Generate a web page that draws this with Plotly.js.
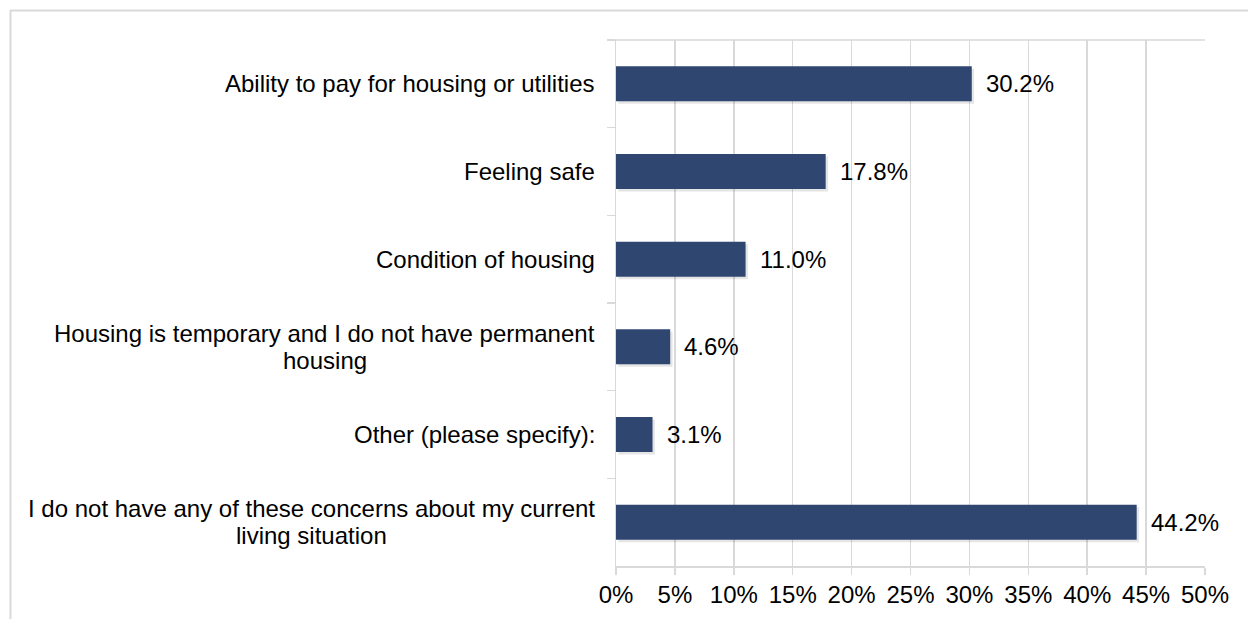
<!DOCTYPE html>
<html>
<head>
<meta charset="utf-8">
<script src="https://cdn.plot.ly/plotly-3.0.1.min.js"></script>
<style>html,body{margin:0;padding:0;background:#fff;}#chart{width:1248px;height:619px;}</style>
</head>
<body>
<div id="chart"></div>
<script>
var categories = [
  "Ability to pay for housing or utilities",
  "Feeling safe",
  "Condition of housing",
  "Housing is temporary and I do not have permanent<br>housing",
  "Other (please specify):",
  "I do not have any of these concerns about my current<br>living situation"
];
var values = [30.2, 17.8, 11.0, 4.6, 3.1, 44.2];
var xTicks = [0, 5, 10, 15, 20, 25, 30, 35, 40, 45, 50];
var xTickLabels = ["0%", "5%", "10%", "15%", "20%", "25%", "30%", "35%", "40%", "45%", "50%"];

var FONT = "Liberation Sans, Arial, sans-serif";
var FS = 24;
var GRID = "#d9d9d9";
var BAR = "#2F4670";

var L = 616, R = 43, T = 40, B = 53, W = 1248, H = 619;
var pw = W - L - R, ph = H - T - B;
function px2x(p) { return (p - L) / pw; }
function py2y(p) { return 1 - (p - T) / ph; }

var canvas = document.createElement("canvas");
var ctx = canvas.getContext("2d");
ctx.font = FS + "px 'Liberation Sans'";

var annotations = [];
categories.forEach(function (c) {
  var lines = c.split("<br>");
  var maxW = 0;
  lines.forEach(function (ln) { maxW = Math.max(maxW, ctx.measureText(ln).width); });
  lines.forEach(function (ln, i) {
    annotations.push({
      xref: "paper", yref: "y", x: 0, y: c, text: ln, showarrow: false,
      xanchor: "center", yanchor: "middle",
      xshift: -21 - maxW / 2, yshift: ((lines.length - 1) / 2 - i) * 27.5,
      font: {family: FONT, size: FS, color: "#000"}
    });
  });
});
values.forEach(function (v, i) {
  annotations.push({
    xref: "x", yref: "y", x: v, y: categories[i], text: v.toFixed(1) + "%",
    showarrow: false, xanchor: "left", yanchor: "middle", xshift: 12,
    font: {family: FONT, size: FS, color: "#000"}
  });
});

var shadow = {
  type: "bar", orientation: "h", x: values, y: categories, base: 0.2,
  width: 0.4, offset: -0.2 + 2.5 / 87.67,
  marker: {color: "rgba(0,0,0,0.10)", line: {width: 0}},
  hoverinfo: "skip", showlegend: false
};
var bars = {
  type: "bar", orientation: "h", x: values, y: categories,
  width: 0.4, offset: -0.2,
  marker: {color: BAR, line: {width: 0}},
  showlegend: false
};

var layout = {
  width: W, height: H,
  margin: {l: L, r: R, t: T, b: B, pad: 0},
  paper_bgcolor: "#fff", plot_bgcolor: "#fff",
  barmode: "overlay",
  font: {family: FONT, size: FS, color: "#000"},
  xaxis: {
    range: [0, 50], tickvals: xTicks, ticktext: xTickLabels,
    showgrid: true, gridcolor: GRID, gridwidth: 1.5,
    showline: true, linecolor: GRID, linewidth: 1.5,
    ticks: "outside", ticklen: 7, tickcolor: GRID, tickwidth: 1.5,
    tickfont: {family: FONT, size: FS, color: "#000"},
    zeroline: false, fixedrange: true
  },
  yaxis: {
    type: "category", autorange: "reversed",
    showticklabels: false,
    showgrid: false, showline: true, linecolor: GRID, linewidth: 1.5,
    ticks: "outside", tickson: "boundaries", ticklen: 8, tickcolor: GRID, tickwidth: 1.5,
    zeroline: false, fixedrange: true
  },
  shapes: [
    {type: "line", xref: "paper", yref: "paper", x0: px2x(608), x1: 1, y0: 1, y1: 1,
     line: {color: GRID, width: 1.5}},
    {type: "line", xref: "paper", yref: "paper", x0: px2x(10), x1: px2x(1250), y0: py2y(10.5), y1: py2y(10.5),
     line: {color: GRID, width: 2}},
    {type: "line", xref: "paper", yref: "paper", x0: px2x(10.5), x1: px2x(10.5), y0: py2y(10), y1: py2y(621),
     line: {color: GRID, width: 2}}
  ],
  annotations: annotations
};

Plotly.newPlot("chart", [shadow, bars], layout, {displayModeBar: false, staticPlot: true});
</script>
</body>
</html>
